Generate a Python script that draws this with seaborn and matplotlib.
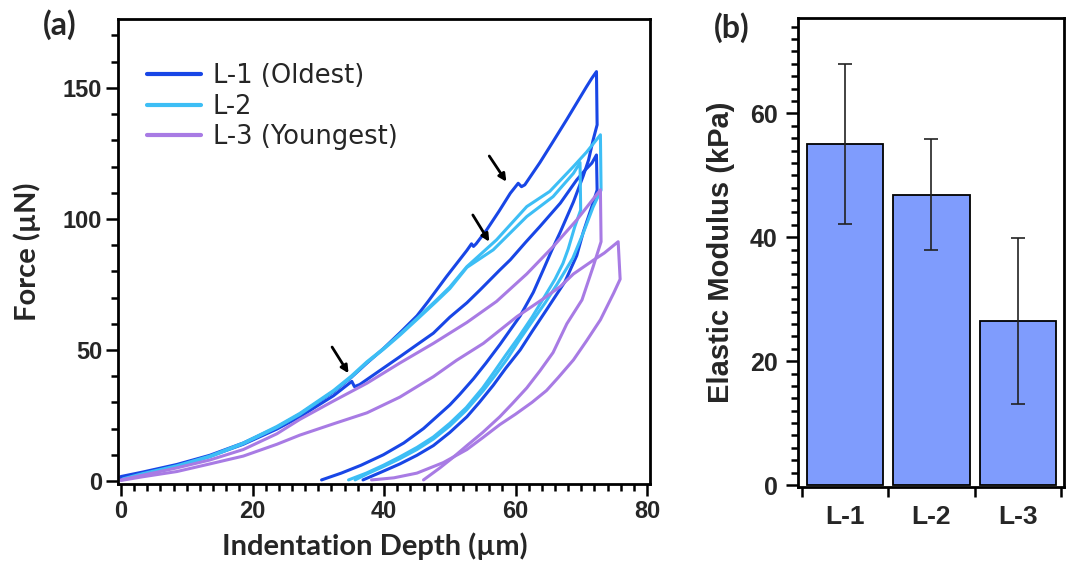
import matplotlib
matplotlib.use("Agg")
import matplotlib.pyplot as plt
from matplotlib.ticker import MultipleLocator
import seaborn as sns
import pandas as pd

# (a) force-indentation loops (depth um, force uN)
l1a_x = [0, 3.3, 8.5, 13.5, 18.6, 23.7, 27.2, 32.3, 35, 37.4, 39.9, 42.4, 45, 46.7, 49.5, 52.6, 53.3, 53.6, 54,
         55.6, 57.5, 59.2, 60.4, 60.9, 61.4, 63.7, 65.7, 67.8, 70.8, 71.6, 72.3, 72.4,
         71.8, 71.1, 70.3, 68.8, 66.8, 65.5, 64.2, 62.7, 60.7, 57.6, 55.5, 53.6, 51.5, 50, 48, 46, 43, 39.9,
         36.5, 33.5, 30.5]
l1a_y = [1.7, 3.4, 6.3, 9.8, 14.5, 20.5, 25.5, 34, 39.5, 45, 50.5, 56.5, 63, 68.5, 78, 88, 90.5, 89.5, 90.5,
         95.8, 103, 109.8, 113.6, 112.3, 113, 121.5, 129.5, 138, 150.5, 153.7, 156.2, 135.9,
         130.2, 122.5, 116.5, 106.5, 95, 88, 80.5, 72, 63, 52, 45, 39, 33, 29, 24.5, 20, 14.5, 10,
         6, 3, 0.4]
l1b_x = [0, 3.3, 8.5, 13.5, 18.6, 23.7, 27.2, 32.3, 35.1, 35.5, 36.3, 39, 42.4, 45, 47.5, 50, 52.6, 54.6, 57.6,
         59.2, 61.5, 63.7, 66.8, 69.3, 70.6, 71.6, 72.3, 72.4,
         71.5, 70.3, 69.3, 67.5, 64.7, 62.5, 60.7, 58.5, 56.6, 54.5, 52.6, 50, 47.5, 45, 42.4, 39.5, 36.8]
l1b_y = [1.2, 3, 6, 9.4, 14, 19.8, 24.5, 32.5, 38, 36, 36.8, 41.5, 47.4, 52, 56.4, 62.5, 68, 72.9, 80.5,
         84.4, 91, 97.1, 106, 114.9, 118.7, 121.3, 124.4, 111,
         104, 95, 86, 76, 65.3, 57, 50, 43, 36.5, 30, 24.5, 18.5, 13.5, 9.8, 6.5, 3.3, 0.4]
l2a_x = [0.3, 3.3, 8.5, 13.5, 18.6, 23.7, 27.2, 32.3, 35, 37.4, 39.9, 42.4, 45, 48, 50, 52.6, 57.1, 61.7, 65.2,
         68.8, 70.8, 72.9, 73,
         71.8, 70.3, 68.7, 66.3, 64.5, 62.7, 60.5, 58.7, 56.8, 55.1, 52.5, 50, 47.5, 45, 42.4, 39.9, 37.5, 35.6]
l2a_y = [0.8, 2.8, 5.8, 9.5, 14.5, 20.8, 25.8, 34.5, 40, 45.5, 50.5, 56, 62, 69.1, 74, 81.8, 92, 104.7, 110.5,
         120, 125.5, 132.1, 111,
         104.6, 94.7, 85, 75, 68, 61.5, 53.5, 46.5, 40, 34.5, 27, 21, 16, 12, 8.5, 5.5, 2.8, 0.4]
l2b_x = [0.3, 3.3, 8.5, 13.5, 18.6, 23.7, 27.2, 32.3, 35, 37.4, 39.9, 42.4, 45, 48, 50, 52.6, 56.6, 61.7, 65.7,
         68.8, 69.8, 69.9,
         69, 68, 67.2, 66, 64.2, 62.5, 60.5, 58.5, 56.7, 55, 52.5, 50, 47.5, 45, 42.4, 39.9, 37.3, 34.6]
l2b_y = [0.5, 2.5, 5.5, 9.2, 14.2, 20.4, 25.4, 34.2, 39.6, 45.2, 50.2, 55.6, 61.6, 68.6, 73.4, 81.5, 88.2, 100.9,
         108.5, 117.4, 121.5, 103.4,
         97, 88.5, 83, 77, 69.5, 62.5, 55, 48, 41.5, 35.5, 28, 22, 16.8, 12.8, 9.2, 6, 3, 0.4]
l3a_x = [0, 3.3, 8.5, 13.5, 18.6, 23.7, 27.2, 32.3, 37.4, 42.4, 47.5, 52.6, 57.1, 61.7, 65.7, 69.3, 72.9, 73,
         71.8, 70.1, 67.8, 65.7, 63.7, 61.7, 59.5, 57.6, 55, 52.6, 50.5, 48.5, 46]
l3a_y = [0.4, 2.2, 5, 8, 12, 18, 23.5, 30.5, 37.3, 45, 52.5, 60.5, 68.5, 79, 89.4, 99.6, 111.1, 91.3,
         81.8, 69.1, 60, 49, 42, 35.5, 29.5, 24.5, 18.5, 13.5, 9, 5, 0.4]
l3b_x = [0, 3.3, 8.5, 13.5, 18.6, 23.7, 27.2, 32.3, 37.4, 42.4, 47.5, 51, 55.1, 60.2, 64.2, 66.8, 68.8, 71.8,
         73.5, 75.6, 75.9,
         74.9, 72.9, 70.8, 68.8, 66.5, 64.7, 62.5, 60, 57.6, 55, 52.6, 49, 45, 41.5, 38.1]
l3b_y = [0.2, 1.6, 3.6, 6.5, 9.5, 14, 17.5, 21.8, 26, 32, 39.8, 46, 52.5, 62.7, 69.5, 74.2, 79, 84.2,
         87, 91.3, 77,
         71.6, 61.5, 53.5, 46.2, 39.5, 34.5, 30, 25.5, 21.5, 16.5, 12, 7, 3, 1.2, 0.4]

samples = ["L-1 (Oldest)", "L-2", "L-3 (Youngest)"]
colors = ["#1846E6", "#3DBEF5", "#A87BE4"]

# pop-in arrows (tail -> head)
arrow_tail_x = [56.0, 53.5, 32.1]
arrow_tail_y = [124, 101.5, 51.1]
arrow_head_x = [58.6, 56.0, 34.6]
arrow_head_y = [114.2, 91.3, 41.1]

# (b) elastic modulus
bar_labels = ["L-1", "L-2", "L-3"]
modulus = [55.0, 46.9, 26.4]
modulus_err = [12.9, 8.9, 13.4]
bar_color = "#7F9CFD"

sns.set_theme(style="ticks")
plt.rcParams["font.family"] = ["Liberation Sans", "DejaVu Sans"]
plt.rcParams["axes.linewidth"] = 2.0
plt.rcParams["axes.edgecolor"] = "black"

traces = [
    (l1a_x, l1a_y, samples[0], "l1a"),
    (l1b_x, l1b_y, samples[0], "l1b"),
    (l2a_x, l2a_y, samples[1], "l2a"),
    (l2b_x, l2b_y, samples[1], "l2b"),
    (l3a_x, l3a_y, samples[2], "l3a"),
    (l3b_x, l3b_y, samples[2], "l3b"),
]
df = pd.concat(
    [pd.DataFrame({"depth": xs, "force": ys, "sample": s, "trace": t}) for xs, ys, s, t in traces],
    ignore_index=True,
)

fig = plt.figure(figsize=(10.72, 5.66), dpi=100)
ax1 = fig.add_axes([0.1101, 0.1449, 0.4963, 0.8216])
ax2 = fig.add_axes([0.7444, 0.1396, 0.2481, 0.8286])

sns.lineplot(data=df, x="depth", y="force", hue="sample", units="trace", estimator=None, sort=False,
             hue_order=samples, palette=dict(zip(samples, colors)), linewidth=2.2, ax=ax1)

for tx, ty, hx, hy in zip(arrow_tail_x, arrow_tail_y, arrow_head_x, arrow_head_y):
    ax1.annotate("", xy=(hx, hy), xytext=(tx, ty),
                 arrowprops=dict(arrowstyle="-|>", color="black", lw=2, mutation_scale=11, shrinkA=0, shrinkB=0))

ax1.set_xlim(-0.45, 80.45)
ax1.set_ylim(-1.15, 176.3)
ax1.set_xticks([0, 20, 40, 60, 80])
ax1.set_yticks([0, 50, 100, 150])
ax1.xaxis.set_minor_locator(MultipleLocator(2))
ax1.yaxis.set_minor_locator(MultipleLocator(10))
ax1.tick_params(which="both", direction="out", top=False, right=False, width=1.8, color="black")
ax1.tick_params(which="major", length=8.5, labelsize=17, pad=3)
ax1.tick_params(which="minor", length=5)
for lab in ax1.get_xticklabels() + ax1.get_yticklabels():
    lab.set_fontweight("bold")
ax1.set_xlabel("Indentation Depth (\u00b5m)", family=["Lato", "DejaVu Sans"], fontweight="bold", fontsize=21)
ax1.set_ylabel("Force (\u00b5N)", family=["Lato", "DejaVu Sans"], fontweight="bold", fontsize=21)
ax1.xaxis.set_label_coords(0.482, -0.105)
ax1.yaxis.set_label_coords(-0.145, 0.5)
for sp in ax1.spines.values():
    sp.set_visible(True)
    sp.set_linewidth(2.0)

handles, labels = ax1.get_legend_handles_labels()
leg = ax1.legend(handles, labels, loc="upper left", bbox_to_anchor=(0.0545, 0.905), frameon=False,
                 borderpad=0, borderaxespad=0, handlelength=2.1, handletextpad=0.45, labelspacing=0.18,
                 prop={"family": "DejaVu Sans", "size": 18.5})
for h in leg.get_lines():
    h.set_linewidth(3)

sns.barplot(x=bar_labels, y=modulus, color=bar_color, saturation=1, edgecolor="black", linewidth=1.3,
            width=0.88, errorbar=None, ax=ax2)
ax2.errorbar(x=range(len(modulus)), y=modulus, yerr=modulus_err, fmt="none", ecolor="#222222",
             elinewidth=1.2, capsize=5, capthick=1.2)
ax2.set_xlim(-0.543, 2.532)
ax2.set_ylim(-0.32, 75.4)
ax2.set_yticks([0, 20, 40, 60])
ax2.yaxis.set_minor_locator(MultipleLocator(2))
ax2.set_xticks([0, 1, 2], bar_labels)
ax2.set_xticks([-0.5, 0.5, 1.5, 2.5], minor=True)
ax2.tick_params(which="both", direction="out", top=False, right=False, width=1.8, color="black")
ax2.tick_params(axis="y", which="major", length=8.5, labelsize=18, pad=6)
ax2.tick_params(axis="y", which="minor", length=5)
ax2.tick_params(axis="x", which="major", length=0, labelsize=19, pad=13)
ax2.tick_params(axis="x", which="minor", length=7.5)
for lab in ax2.get_xticklabels() + ax2.get_yticklabels():
    lab.set_fontweight("bold")
ax2.set_xlabel("")
ax2.set_ylabel("Elastic Modulus (kPa)", fontweight="bold", fontsize=21)
ax2.yaxis.set_label_coords(-0.237, 0.5)
for sp in ax2.spines.values():
    sp.set_visible(True)
    sp.set_linewidth(2.0)

fig.text(0.056, 0.956, "(a)", family=["Lato", "DejaVu Sans"], fontweight="bold", fontsize=23,
         ha="center", va="center")
fig.text(0.683, 0.952, "(b)", family=["Lato", "DejaVu Sans"], fontweight="bold", fontsize=23,
         ha="center", va="center")

fig.savefig("out.png", dpi=100)
